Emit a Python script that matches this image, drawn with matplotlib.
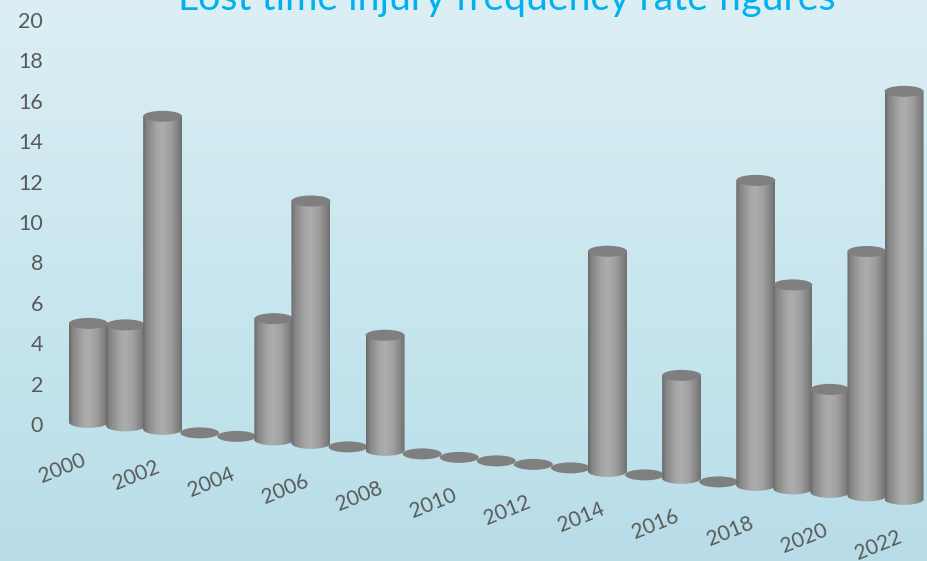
import numpy as np
import matplotlib
matplotlib.use('Agg')
import matplotlib.pyplot as plt
from matplotlib.patches import Ellipse, PathPatch
from matplotlib.path import Path
from matplotlib.colors import LinearSegmentedColormap
from matplotlib.transforms import Affine2D

plt.rcParams['font.family'] = ['Lato', 'DejaVu Sans']

# Valores
years = list(range(2000, 2023))
rates = [4.9, 5.0, 15.5, 0, 0, 6.0, 12.0, 0, 5.7, 0, 0, 0, 0, 0, 10.9, 0, 5.1, 0, 15.1, 10.1, 5.1, 12.1, 20.2]
year_labels = [str(y) for y in years[::2]]
y_ticks = list(range(0, 21, 2))
title = 'Lost time injury frequency rate figures'

W, H = 927, 561
PX_X = 37.07   # pixeles por anio
PX_Y = 20.2    # pixeles por unidad
BAR_W = 39.0 / PX_X
ELL_H = 11.0 / PX_Y
DROP = 3.5 / PX_Y  # caida de la base por anio (perspectiva)

fig = plt.figure(figsize=(W / 100, H / 100), dpi=100)

# Fondo con degradado
bg = fig.add_axes([0, 0, 1, 1], zorder=0)
bg_cmap = LinearSegmentedColormap.from_list('bg', ['#dceff5', '#cfe9f0', '#c3e4ed', '#b8dde8'])
bg.imshow(np.linspace(0, 1, 256).reshape(-1, 1), cmap=bg_cmap, aspect='auto', extent=[0, 1, 0, 1])
bg.axis('off')

ax = fig.add_axes([0, 0, 1, 1], zorder=1)
ax.patch.set_alpha(0)
xlim = (2000 - 88.5 / PX_X, 2000 + (W - 88.5) / PX_X)
ylim = (-(H - 424) / PX_Y, 424 / PX_Y)

cyl_cmap = LinearSegmentedColormap.from_list(
    'cyl', [(0, '#6a6a6a'), (0.1, '#858585'), (0.35, '#a5a5a5'), (0.5, '#adadad'),
            (0.7, '#a0a0a0'), (0.92, '#7f7f7f'), (1, '#6e6e6e')])
grad = np.linspace(0, 1, 128).reshape(1, -1)

for i, (year, rate) in enumerate(zip(years, rates)):
    shift = Affine2D().translate(0, -DROP * (year - 2000) + 0.08) + ax.transData
    z = 2 + i
    left, right = year - BAR_W / 2, year + BAR_W / 2
    if rate > 0:
        # cuerpo del cilindro: rectangulo con media elipse abajo
        k = 0.5523
        a, b = BAR_W / 2, ELL_H / 2
        verts = [(left, rate), (left, 0),
                 (left, -k * b), (year - k * a, -b), (year, -b),
                 (year + k * a, -b), (right, -k * b), (right, 0),
                 (right, rate), (left, rate)]
        codes = [Path.MOVETO, Path.LINETO,
                 Path.CURVE4, Path.CURVE4, Path.CURVE4,
                 Path.CURVE4, Path.CURVE4, Path.CURVE4,
                 Path.LINETO, Path.CLOSEPOLY]
        body = PathPatch(Path(verts, codes), facecolor='none', edgecolor='none', transform=shift, zorder=z)
        ax.add_patch(body)
        im = ax.imshow(grad, cmap=cyl_cmap, aspect='auto', extent=[left, right, -ELL_H, rate],
                       transform=shift, zorder=z)
        im.set_clip_path(body)
    ax.add_patch(Ellipse((year, rate), BAR_W, ELL_H, facecolor='#7f7f7f', edgecolor='none',
                         transform=shift, zorder=z))

# Etiquetas del eje x giradas, siguiendo la base
for year, label in zip(years[::2], year_labels):
    shift = Affine2D().translate(0, -DROP * (year - 2000)) + ax.transData
    ax.text(year - 26 / PX_X, -44 / PX_Y, label, transform=shift, fontsize=15, color='#595959',
            rotation=22, ha='center', va='center', rotation_mode='anchor')

ax.set_xlim(xlim)
ax.set_ylim(ylim)
ax.set_xticks([])
ax.set_yticks(y_ticks)
ax.tick_params(axis='y', length=0, pad=-31, labelsize=15.5, labelcolor='#595959')
for s in ax.spines.values():
    s.set_visible(False)

fig.text(507 / W, 1 - 10 / H, title, color='#00b0f0', fontsize=28.3, ha='center', va='baseline')

fig.savefig('out.png', dpi=100)
